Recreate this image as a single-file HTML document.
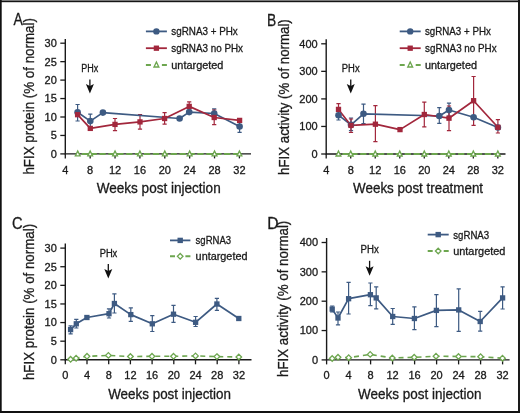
<!DOCTYPE html>
<html><head><meta charset="utf-8"><style>
html,body{margin:0;padding:0;background:#fff;}
body{width:520px;height:413px;overflow:hidden;}
svg{display:block;will-change:transform;}
text{font-family:"Liberation Sans", sans-serif;stroke:#1a1a1a;stroke-width:0.3px;}
</style></head><body>
<svg width="520" height="413" viewBox="0 0 520 413">
<rect x="0" y="0" width="520" height="413" fill="#fff"/>
<text x="13.4" y="25.2" font-size="16" text-anchor="start" fill="#1a1a1a" textLength="9.3" lengthAdjust="spacingAndGlyphs">A</text>
<text transform="translate(34.3,174.6) rotate(-90)" x="0" y="0" font-size="14" fill="#1a1a1a" textLength="156.5" lengthAdjust="spacingAndGlyphs">hFIX protein (% of normal)</text>
<path d="M65.3,39 V153.9 H251" stroke="#1a1a1a" stroke-width="1.4" fill="none"/>
<path d="M60.3,153.9 H65.3" stroke="#1a1a1a" stroke-width="1.3"/>
<text x="56.8" y="157.8" font-size="11" text-anchor="end" fill="#1a1a1a">0</text>
<path d="M60.3,135.45000000000002 H65.3" stroke="#1a1a1a" stroke-width="1.3"/>
<text x="56.8" y="139.35000000000002" font-size="11" text-anchor="end" fill="#1a1a1a">5</text>
<path d="M60.3,117.0 H65.3" stroke="#1a1a1a" stroke-width="1.3"/>
<text x="56.8" y="120.9" font-size="11" text-anchor="end" fill="#1a1a1a">10</text>
<path d="M60.3,98.55000000000001 H65.3" stroke="#1a1a1a" stroke-width="1.3"/>
<text x="56.8" y="102.45000000000002" font-size="11" text-anchor="end" fill="#1a1a1a">15</text>
<path d="M60.3,80.10000000000001 H65.3" stroke="#1a1a1a" stroke-width="1.3"/>
<text x="56.8" y="84.00000000000001" font-size="11" text-anchor="end" fill="#1a1a1a">20</text>
<path d="M60.3,61.650000000000006 H65.3" stroke="#1a1a1a" stroke-width="1.3"/>
<text x="56.8" y="65.55000000000001" font-size="11" text-anchor="end" fill="#1a1a1a">25</text>
<path d="M60.3,43.2 H65.3" stroke="#1a1a1a" stroke-width="1.3"/>
<text x="56.8" y="47.1" font-size="11" text-anchor="end" fill="#1a1a1a">30</text>
<path d="M65.3,153.9 V158.4" stroke="#1a1a1a" stroke-width="1.3"/>
<text x="65.3" y="173.6" font-size="11" text-anchor="middle" fill="#1a1a1a">4</text>
<path d="M90.172,153.9 V158.4" stroke="#1a1a1a" stroke-width="1.3"/>
<text x="90.172" y="173.6" font-size="11" text-anchor="middle" fill="#1a1a1a">8</text>
<path d="M115.044,153.9 V158.4" stroke="#1a1a1a" stroke-width="1.3"/>
<text x="115.044" y="173.6" font-size="11" text-anchor="middle" fill="#1a1a1a">12</text>
<path d="M139.916,153.9 V158.4" stroke="#1a1a1a" stroke-width="1.3"/>
<text x="139.916" y="173.6" font-size="11" text-anchor="middle" fill="#1a1a1a">16</text>
<path d="M164.788,153.9 V158.4" stroke="#1a1a1a" stroke-width="1.3"/>
<text x="164.788" y="173.6" font-size="11" text-anchor="middle" fill="#1a1a1a">20</text>
<path d="M189.66,153.9 V158.4" stroke="#1a1a1a" stroke-width="1.3"/>
<text x="189.66" y="173.6" font-size="11" text-anchor="middle" fill="#1a1a1a">24</text>
<path d="M214.53199999999998,153.9 V158.4" stroke="#1a1a1a" stroke-width="1.3"/>
<text x="214.53199999999998" y="173.6" font-size="11" text-anchor="middle" fill="#1a1a1a">28</text>
<path d="M239.404,153.9 V158.4" stroke="#1a1a1a" stroke-width="1.3"/>
<text x="239.404" y="173.6" font-size="11" text-anchor="middle" fill="#1a1a1a">32</text>
<text x="96.7" y="192.8" font-size="14" text-anchor="start" fill="#1a1a1a" textLength="124" lengthAdjust="spacingAndGlyphs">Weeks post injection</text>
<text x="81.2" y="71.9" font-size="10" text-anchor="start" fill="#1a1a1a" textLength="17" lengthAdjust="spacingAndGlyphs">PHx</text>
<path d="M89.9,79.4 V88.6" stroke="#111" stroke-width="1.3"/>
<path d="M85.9,84.1 L89.9,93.6 L93.9,84.1 L89.9,86.1 Z" fill="#111"/>
<path d="M145.9,31.4 H166.9" stroke="#3d5a82" stroke-width="1.8"/>
<text x="171.3" y="35.3" font-size="10.5" text-anchor="start" fill="#1a1a1a" textLength="66.5" lengthAdjust="spacingAndGlyphs">sgRNA3 + PHx</text>
<path d="M145.9,48.2 H166.9" stroke="#a2273c" stroke-width="1.8"/>
<text x="171.3" y="52.1" font-size="10.5" text-anchor="start" fill="#1a1a1a" textLength="71.7" lengthAdjust="spacingAndGlyphs">sgRNA3 no PHx</text>
<path d="M145.9,65.0 H150.9 M161.9,65.0 H166.9" stroke="#6da64f" stroke-width="2"/>
<text x="171.3" y="68.9" font-size="10.5" text-anchor="start" fill="#1a1a1a" textLength="52.1" lengthAdjust="spacingAndGlyphs">untargeted</text>
<path d="M77.6,104.5 V121 M75.5,104.5 H79.69999999999999 M75.5,121 H79.69999999999999" stroke="#3d5a82" stroke-width="1.2" fill="none"/>
<path d="M90.3,114.2 V128 M88.2,114.2 H92.39999999999999 M88.2,128 H92.39999999999999" stroke="#3d5a82" stroke-width="1.2" fill="none"/>
<path d="M214.2,108.8 V118 M212.1,108.8 H216.29999999999998 M212.1,118 H216.29999999999998" stroke="#3d5a82" stroke-width="1.2" fill="none"/>
<path d="M239.6,121 V132.3 M237.5,121 H241.7 M237.5,132.3 H241.7" stroke="#3d5a82" stroke-width="1.2" fill="none"/>
<path d="M115,118.5 V130.6 M112.9,118.5 H117.1 M112.9,130.6 H117.1" stroke="#a2273c" stroke-width="1.2" fill="none"/>
<path d="M140,114.6 V129.2 M137.9,114.6 H142.1 M137.9,129.2 H142.1" stroke="#a2273c" stroke-width="1.2" fill="none"/>
<path d="M164.6,112.7 V124.2 M162.5,112.7 H166.7 M162.5,124.2 H166.7" stroke="#a2273c" stroke-width="1.2" fill="none"/>
<path d="M189.2,101.9 V112.5 M187.1,101.9 H191.29999999999998 M187.1,112.5 H191.29999999999998" stroke="#a2273c" stroke-width="1.2" fill="none"/>
<path d="M214.2,110 V124.6 M212.1,110 H216.29999999999998 M212.1,124.6 H216.29999999999998" stroke="#a2273c" stroke-width="1.2" fill="none"/>
<polyline points="77.73599999999999,153.9 90.172,153.9 115.044,153.9 139.916,153.9 164.788,153.9 189.66,153.9 214.53199999999998,153.9 239.404,153.9" fill="none" stroke="#6da64f" stroke-width="2.0" stroke-linejoin="round" stroke-dasharray="6.3,2.6" stroke-dashoffset="5"/>
<polyline points="77.6,112.3 90.3,121.1 102.9,112.6 179.6,118.5 189.2,112.1 214.2,113.5 239.6,126.5" fill="none" stroke="#3d5a82" stroke-width="1.7" stroke-linejoin="round"/>
<polyline points="77.6,114.7 90.3,128.4 115,124.4 140,121.9 164.6,118.5 189.2,106.4 214.2,117.5 239.6,120.4" fill="none" stroke="#a2273c" stroke-width="1.7" stroke-linejoin="round"/>
<circle cx="77.6" cy="112.3" r="3.3" fill="#3d5a82"/>
<circle cx="90.3" cy="121.1" r="3.3" fill="#3d5a82"/>
<circle cx="102.9" cy="112.6" r="3.3" fill="#3d5a82"/>
<circle cx="179.6" cy="118.5" r="3.3" fill="#3d5a82"/>
<circle cx="189.2" cy="112.1" r="3.3" fill="#3d5a82"/>
<circle cx="214.2" cy="113.5" r="3.3" fill="#3d5a82"/>
<circle cx="239.6" cy="126.5" r="3.3" fill="#3d5a82"/>
<rect x="74.94999999999999" y="112.05" width="5.3" height="5.3" fill="#a2273c"/>
<rect x="87.64999999999999" y="125.75" width="5.3" height="5.3" fill="#a2273c"/>
<rect x="112.35" y="121.75" width="5.3" height="5.3" fill="#a2273c"/>
<rect x="137.35" y="119.25" width="5.3" height="5.3" fill="#a2273c"/>
<rect x="161.95" y="115.85" width="5.3" height="5.3" fill="#a2273c"/>
<rect x="186.54999999999998" y="103.75" width="5.3" height="5.3" fill="#a2273c"/>
<rect x="211.54999999999998" y="114.85" width="5.3" height="5.3" fill="#a2273c"/>
<rect x="236.95" y="117.75" width="5.3" height="5.3" fill="#a2273c"/>
<path d="M77.73599999999999,150.96 L80.136,155.86 L75.33599999999998,155.86 Z" fill="#fff" stroke="#6da64f" stroke-width="1.35" stroke-linejoin="miter"/>
<path d="M90.172,150.96 L92.572,155.86 L87.77199999999999,155.86 Z" fill="#fff" stroke="#6da64f" stroke-width="1.35" stroke-linejoin="miter"/>
<path d="M115.044,150.96 L117.444,155.86 L112.64399999999999,155.86 Z" fill="#fff" stroke="#6da64f" stroke-width="1.35" stroke-linejoin="miter"/>
<path d="M139.916,150.96 L142.316,155.86 L137.516,155.86 Z" fill="#fff" stroke="#6da64f" stroke-width="1.35" stroke-linejoin="miter"/>
<path d="M164.788,150.96 L167.18800000000002,155.86 L162.388,155.86 Z" fill="#fff" stroke="#6da64f" stroke-width="1.35" stroke-linejoin="miter"/>
<path d="M189.66,150.96 L192.06,155.86 L187.26,155.86 Z" fill="#fff" stroke="#6da64f" stroke-width="1.35" stroke-linejoin="miter"/>
<path d="M214.53199999999998,150.96 L216.932,155.86 L212.13199999999998,155.86 Z" fill="#fff" stroke="#6da64f" stroke-width="1.35" stroke-linejoin="miter"/>
<path d="M239.404,150.96 L241.804,155.86 L237.004,155.86 Z" fill="#fff" stroke="#6da64f" stroke-width="1.35" stroke-linejoin="miter"/>
<circle cx="156.4" cy="31.4" r="3.2" fill="#3d5a82"/>
<rect x="153.75" y="45.550000000000004" width="5.3" height="5.3" fill="#a2273c"/>
<path d="M156.4,62.06 L158.8,66.96 L154.0,66.96 Z" fill="#fff" stroke="#6da64f" stroke-width="1.35" stroke-linejoin="miter"/>
<text x="267.0" y="25.5" font-size="16" text-anchor="start" fill="#1a1a1a" textLength="9.2" lengthAdjust="spacingAndGlyphs">B</text>
<text transform="translate(288.8,174.9) rotate(-90)" x="0" y="0" font-size="14" fill="#1a1a1a" textLength="155.7" lengthAdjust="spacingAndGlyphs">hFIX activity (% of normal)</text>
<path d="M326.2,39.3 V154.0 H505.5" stroke="#1a1a1a" stroke-width="1.4" fill="none"/>
<path d="M321.2,154.0 H326.2" stroke="#1a1a1a" stroke-width="1.3"/>
<text x="317.7" y="157.9" font-size="11" text-anchor="end" fill="#1a1a1a">0</text>
<path d="M321.2,126.45 H326.2" stroke="#1a1a1a" stroke-width="1.3"/>
<text x="317.7" y="130.35" font-size="11" text-anchor="end" fill="#1a1a1a">100</text>
<path d="M321.2,98.9 H326.2" stroke="#1a1a1a" stroke-width="1.3"/>
<text x="317.7" y="102.80000000000001" font-size="11" text-anchor="end" fill="#1a1a1a">200</text>
<path d="M321.2,71.35 H326.2" stroke="#1a1a1a" stroke-width="1.3"/>
<text x="317.7" y="75.25" font-size="11" text-anchor="end" fill="#1a1a1a">300</text>
<path d="M321.2,43.8 H326.2" stroke="#1a1a1a" stroke-width="1.3"/>
<text x="317.7" y="47.699999999999996" font-size="11" text-anchor="end" fill="#1a1a1a">400</text>
<path d="M326.2,154.0 V158.5" stroke="#1a1a1a" stroke-width="1.3"/>
<text x="326.2" y="173.7" font-size="11" text-anchor="middle" fill="#1a1a1a">4</text>
<path d="M350.71999999999997,154.0 V158.5" stroke="#1a1a1a" stroke-width="1.3"/>
<text x="350.71999999999997" y="173.7" font-size="11" text-anchor="middle" fill="#1a1a1a">8</text>
<path d="M375.24,154.0 V158.5" stroke="#1a1a1a" stroke-width="1.3"/>
<text x="375.24" y="173.7" font-size="11" text-anchor="middle" fill="#1a1a1a">12</text>
<path d="M399.76,154.0 V158.5" stroke="#1a1a1a" stroke-width="1.3"/>
<text x="399.76" y="173.7" font-size="11" text-anchor="middle" fill="#1a1a1a">16</text>
<path d="M424.28,154.0 V158.5" stroke="#1a1a1a" stroke-width="1.3"/>
<text x="424.28" y="173.7" font-size="11" text-anchor="middle" fill="#1a1a1a">20</text>
<path d="M448.79999999999995,154.0 V158.5" stroke="#1a1a1a" stroke-width="1.3"/>
<text x="448.79999999999995" y="173.7" font-size="11" text-anchor="middle" fill="#1a1a1a">24</text>
<path d="M473.32,154.0 V158.5" stroke="#1a1a1a" stroke-width="1.3"/>
<text x="473.32" y="173.7" font-size="11" text-anchor="middle" fill="#1a1a1a">28</text>
<path d="M497.84,154.0 V158.5" stroke="#1a1a1a" stroke-width="1.3"/>
<text x="497.84" y="173.7" font-size="11" text-anchor="middle" fill="#1a1a1a">32</text>
<text x="353.1" y="192.8" font-size="14" text-anchor="start" fill="#1a1a1a" textLength="130" lengthAdjust="spacingAndGlyphs">Weeks post treatment</text>
<text x="341.8" y="71.9" font-size="10" text-anchor="start" fill="#1a1a1a" textLength="17.8" lengthAdjust="spacingAndGlyphs">PHx</text>
<path d="M350.75,79.4 V88.6" stroke="#111" stroke-width="1.3"/>
<path d="M346.75,84.1 L350.75,93.6 L354.75,84.1 L350.75,86.1 Z" fill="#111"/>
<path d="M399.7,31.4 H420.7" stroke="#3d5a82" stroke-width="1.8"/>
<text x="425" y="35.3" font-size="10.5" text-anchor="start" fill="#1a1a1a" textLength="65.8" lengthAdjust="spacingAndGlyphs">sgRNA3 + PHx</text>
<path d="M399.7,48.2 H420.7" stroke="#a2273c" stroke-width="1.8"/>
<text x="425" y="52.1" font-size="10.5" text-anchor="start" fill="#1a1a1a" textLength="71.6" lengthAdjust="spacingAndGlyphs">sgRNA3 no PHx</text>
<path d="M399.7,65.0 H404.7 M415.7,65.0 H420.7" stroke="#6da64f" stroke-width="2"/>
<text x="425" y="68.9" font-size="10.5" text-anchor="start" fill="#1a1a1a" textLength="52" lengthAdjust="spacingAndGlyphs">untargeted</text>
<path d="M338.5,110 V120 M336.4,110 H340.6 M336.4,120 H340.6" stroke="#3d5a82" stroke-width="1.2" fill="none"/>
<path d="M351,118 V130.6 M348.9,118 H353.1 M348.9,130.6 H353.1" stroke="#3d5a82" stroke-width="1.2" fill="none"/>
<path d="M363.5,104.2 V123.5 M361.4,104.2 H365.6 M361.4,123.5 H365.6" stroke="#3d5a82" stroke-width="1.2" fill="none"/>
<path d="M439.3,107.7 V123.4 M437.2,107.7 H441.40000000000003 M437.2,123.4 H441.40000000000003" stroke="#3d5a82" stroke-width="1.2" fill="none"/>
<path d="M449,103.2 V116 M446.9,103.2 H451.1 M446.9,116 H451.1" stroke="#3d5a82" stroke-width="1.2" fill="none"/>
<path d="M338.5,103.7 V115 M336.4,103.7 H340.6 M336.4,115 H340.6" stroke="#a2273c" stroke-width="1.2" fill="none"/>
<path d="M351,119 V132.5 M348.9,119 H353.1 M348.9,132.5 H353.1" stroke="#a2273c" stroke-width="1.2" fill="none"/>
<path d="M375.4,105.6 V141.7 M373.29999999999995,105.6 H377.5 M373.29999999999995,141.7 H377.5" stroke="#a2273c" stroke-width="1.2" fill="none"/>
<path d="M424.3,102.2 V126.9 M422.2,102.2 H426.40000000000003 M422.2,126.9 H426.40000000000003" stroke="#a2273c" stroke-width="1.2" fill="none"/>
<path d="M449,106 V130.6 M446.9,106 H451.1 M446.9,130.6 H451.1" stroke="#a2273c" stroke-width="1.2" fill="none"/>
<path d="M473.6,76.5 V125.4 M471.5,76.5 H475.70000000000005 M471.5,125.4 H475.70000000000005" stroke="#a2273c" stroke-width="1.2" fill="none"/>
<path d="M497.9,119.7 V133 M495.79999999999995,119.7 H500.0 M495.79999999999995,133 H500.0" stroke="#a2273c" stroke-width="1.2" fill="none"/>
<polyline points="338.46,154.0 350.71999999999997,154.0 375.24,154.0 399.76,154.0 424.28,154.0 448.79999999999995,154.0 473.32,154.0 497.84,154.0" fill="none" stroke="#6da64f" stroke-width="2.0" stroke-linejoin="round" stroke-dasharray="6.3,2.6" stroke-dashoffset="5"/>
<polyline points="338.5,115.2 351,124.8 363.5,113.8 439.3,116 449,110 473.6,117.2 497.9,127.5" fill="none" stroke="#3d5a82" stroke-width="1.7" stroke-linejoin="round"/>
<polyline points="338.5,109.4 351,125.4 375.4,124.2 400,129.6 424.3,114.5 449,118.2 473.6,100.7 497.9,127.3" fill="none" stroke="#a2273c" stroke-width="1.7" stroke-linejoin="round"/>
<circle cx="338.5" cy="115.2" r="3.3" fill="#3d5a82"/>
<circle cx="351" cy="124.8" r="3.3" fill="#3d5a82"/>
<circle cx="363.5" cy="113.8" r="3.3" fill="#3d5a82"/>
<circle cx="439.3" cy="116" r="3.3" fill="#3d5a82"/>
<circle cx="449" cy="110" r="3.3" fill="#3d5a82"/>
<circle cx="473.6" cy="117.2" r="3.3" fill="#3d5a82"/>
<circle cx="497.9" cy="127.5" r="3.3" fill="#3d5a82"/>
<rect x="335.85" y="106.75" width="5.3" height="5.3" fill="#a2273c"/>
<rect x="348.35" y="122.75" width="5.3" height="5.3" fill="#a2273c"/>
<rect x="372.75" y="121.55" width="5.3" height="5.3" fill="#a2273c"/>
<rect x="397.35" y="126.94999999999999" width="5.3" height="5.3" fill="#a2273c"/>
<rect x="421.65000000000003" y="111.85" width="5.3" height="5.3" fill="#a2273c"/>
<rect x="446.35" y="115.55" width="5.3" height="5.3" fill="#a2273c"/>
<rect x="470.95000000000005" y="98.05" width="5.3" height="5.3" fill="#a2273c"/>
<rect x="495.25" y="124.64999999999999" width="5.3" height="5.3" fill="#a2273c"/>
<path d="M338.46,151.06 L340.85999999999996,155.96 L336.06,155.96 Z" fill="#fff" stroke="#6da64f" stroke-width="1.35" stroke-linejoin="miter"/>
<path d="M350.71999999999997,151.06 L353.11999999999995,155.96 L348.32,155.96 Z" fill="#fff" stroke="#6da64f" stroke-width="1.35" stroke-linejoin="miter"/>
<path d="M375.24,151.06 L377.64,155.96 L372.84000000000003,155.96 Z" fill="#fff" stroke="#6da64f" stroke-width="1.35" stroke-linejoin="miter"/>
<path d="M399.76,151.06 L402.15999999999997,155.96 L397.36,155.96 Z" fill="#fff" stroke="#6da64f" stroke-width="1.35" stroke-linejoin="miter"/>
<path d="M424.28,151.06 L426.67999999999995,155.96 L421.88,155.96 Z" fill="#fff" stroke="#6da64f" stroke-width="1.35" stroke-linejoin="miter"/>
<path d="M448.79999999999995,151.06 L451.19999999999993,155.96 L446.4,155.96 Z" fill="#fff" stroke="#6da64f" stroke-width="1.35" stroke-linejoin="miter"/>
<path d="M473.32,151.06 L475.71999999999997,155.96 L470.92,155.96 Z" fill="#fff" stroke="#6da64f" stroke-width="1.35" stroke-linejoin="miter"/>
<path d="M497.84,151.06 L500.23999999999995,155.96 L495.44,155.96 Z" fill="#fff" stroke="#6da64f" stroke-width="1.35" stroke-linejoin="miter"/>
<circle cx="410.2" cy="31.4" r="3.2" fill="#3d5a82"/>
<rect x="407.55" y="45.550000000000004" width="5.3" height="5.3" fill="#a2273c"/>
<path d="M410.2,62.06 L412.59999999999997,66.96 L407.8,66.96 Z" fill="#fff" stroke="#6da64f" stroke-width="1.35" stroke-linejoin="miter"/>
<text x="12.0" y="229.2" font-size="16" text-anchor="start" fill="#1a1a1a" textLength="10.6" lengthAdjust="spacingAndGlyphs">C</text>
<text transform="translate(34.0,380.1) rotate(-90)" x="0" y="0" font-size="14" fill="#1a1a1a" textLength="156.2" lengthAdjust="spacingAndGlyphs">hFIX protein (% of normal)</text>
<path d="M65.3,243.5 V359.8 H251.5" stroke="#1a1a1a" stroke-width="1.4" fill="none"/>
<path d="M60.3,359.8 H65.3" stroke="#1a1a1a" stroke-width="1.3"/>
<text x="56.8" y="363.7" font-size="11" text-anchor="end" fill="#1a1a1a">0</text>
<path d="M60.3,341.185 H65.3" stroke="#1a1a1a" stroke-width="1.3"/>
<text x="56.8" y="345.085" font-size="11" text-anchor="end" fill="#1a1a1a">5</text>
<path d="M60.3,322.57 H65.3" stroke="#1a1a1a" stroke-width="1.3"/>
<text x="56.8" y="326.46999999999997" font-size="11" text-anchor="end" fill="#1a1a1a">10</text>
<path d="M60.3,303.95500000000004 H65.3" stroke="#1a1a1a" stroke-width="1.3"/>
<text x="56.8" y="307.855" font-size="11" text-anchor="end" fill="#1a1a1a">15</text>
<path d="M60.3,285.34000000000003 H65.3" stroke="#1a1a1a" stroke-width="1.3"/>
<text x="56.8" y="289.24" font-size="11" text-anchor="end" fill="#1a1a1a">20</text>
<path d="M60.3,266.725 H65.3" stroke="#1a1a1a" stroke-width="1.3"/>
<text x="56.8" y="270.625" font-size="11" text-anchor="end" fill="#1a1a1a">25</text>
<path d="M60.3,248.11 H65.3" stroke="#1a1a1a" stroke-width="1.3"/>
<text x="56.8" y="252.01000000000002" font-size="11" text-anchor="end" fill="#1a1a1a">30</text>
<path d="M65.3,359.8 V364.3" stroke="#1a1a1a" stroke-width="1.3"/>
<text x="65.3" y="378.6" font-size="11" text-anchor="middle" fill="#1a1a1a">0</text>
<path d="M87.0,359.8 V364.3" stroke="#1a1a1a" stroke-width="1.3"/>
<text x="87.0" y="378.6" font-size="11" text-anchor="middle" fill="#1a1a1a">4</text>
<path d="M108.69999999999999,359.8 V364.3" stroke="#1a1a1a" stroke-width="1.3"/>
<text x="108.69999999999999" y="378.6" font-size="11" text-anchor="middle" fill="#1a1a1a">8</text>
<path d="M130.39999999999998,359.8 V364.3" stroke="#1a1a1a" stroke-width="1.3"/>
<text x="130.39999999999998" y="378.6" font-size="11" text-anchor="middle" fill="#1a1a1a">12</text>
<path d="M152.1,359.8 V364.3" stroke="#1a1a1a" stroke-width="1.3"/>
<text x="152.1" y="378.6" font-size="11" text-anchor="middle" fill="#1a1a1a">16</text>
<path d="M173.8,359.8 V364.3" stroke="#1a1a1a" stroke-width="1.3"/>
<text x="173.8" y="378.6" font-size="11" text-anchor="middle" fill="#1a1a1a">20</text>
<path d="M195.5,359.8 V364.3" stroke="#1a1a1a" stroke-width="1.3"/>
<text x="195.5" y="378.6" font-size="11" text-anchor="middle" fill="#1a1a1a">24</text>
<path d="M217.2,359.8 V364.3" stroke="#1a1a1a" stroke-width="1.3"/>
<text x="217.2" y="378.6" font-size="11" text-anchor="middle" fill="#1a1a1a">28</text>
<path d="M238.89999999999998,359.8 V364.3" stroke="#1a1a1a" stroke-width="1.3"/>
<text x="238.89999999999998" y="378.6" font-size="11" text-anchor="middle" fill="#1a1a1a">32</text>
<text x="108.2" y="398.6" font-size="14" text-anchor="start" fill="#1a1a1a" textLength="122.8" lengthAdjust="spacingAndGlyphs">Weeks post injection</text>
<text x="99.7" y="257.0" font-size="10" text-anchor="start" fill="#1a1a1a" textLength="17.6" lengthAdjust="spacingAndGlyphs">PHx</text>
<path d="M108.3,264.0 V273.5" stroke="#111" stroke-width="1.3"/>
<path d="M104.3,269.0 L108.3,278.5 L112.3,269.0 L108.3,271.0 Z" fill="#111"/>
<path d="M170,240.4 H190.4" stroke="#3d5a82" stroke-width="1.8"/>
<text x="195.6" y="244.3" font-size="10.5" text-anchor="start" fill="#1a1a1a" textLength="35.6" lengthAdjust="spacingAndGlyphs">sgRNA3</text>
<path d="M170,256.3 H175 M185.4,256.3 H190.4" stroke="#6da64f" stroke-width="2"/>
<text x="195.6" y="260.2" font-size="10.5" text-anchor="start" fill="#1a1a1a" textLength="51.9" lengthAdjust="spacingAndGlyphs">untargeted</text>
<path d="M70.6,325.8 V333.8 M68.5,325.8 H72.69999999999999 M68.5,333.8 H72.69999999999999" stroke="#3d5a82" stroke-width="1.2" fill="none"/>
<path d="M76.3,319.4 V328 M74.2,319.4 H78.39999999999999 M74.2,328 H78.39999999999999" stroke="#3d5a82" stroke-width="1.2" fill="none"/>
<path d="M86.9,316 V319 M84.80000000000001,316 H89.0 M84.80000000000001,319 H89.0" stroke="#3d5a82" stroke-width="1.2" fill="none"/>
<path d="M109,308.8 V318 M106.9,308.8 H111.1 M106.9,318 H111.1" stroke="#3d5a82" stroke-width="1.2" fill="none"/>
<path d="M114.4,293.8 V313 M112.30000000000001,293.8 H116.5 M112.30000000000001,313 H116.5" stroke="#3d5a82" stroke-width="1.2" fill="none"/>
<path d="M130.8,307.9 V321.3 M128.70000000000002,307.9 H132.9 M128.70000000000002,321.3 H132.9" stroke="#3d5a82" stroke-width="1.2" fill="none"/>
<path d="M152.3,315.6 V331.5 M150.20000000000002,315.6 H154.4 M150.20000000000002,331.5 H154.4" stroke="#3d5a82" stroke-width="1.2" fill="none"/>
<path d="M173.5,305.4 V322.3 M171.4,305.4 H175.6 M171.4,322.3 H175.6" stroke="#3d5a82" stroke-width="1.2" fill="none"/>
<path d="M195.6,316.5 V326.5 M193.5,316.5 H197.7 M193.5,326.5 H197.7" stroke="#3d5a82" stroke-width="1.2" fill="none"/>
<path d="M216.9,298.3 V310.4 M214.8,298.3 H219.0 M214.8,310.4 H219.0" stroke="#3d5a82" stroke-width="1.2" fill="none"/>
<path d="M238.8,317 V320 M236.70000000000002,317 H240.9 M236.70000000000002,320 H240.9" stroke="#3d5a82" stroke-width="1.2" fill="none"/>
<polyline points="70.6,359.3 76.1,358.2 87,356.3 108.4,355.4 130.4,356.5 152,356.3 173.5,356.3 195.5,355.9 216.9,356.6 238.8,357" fill="none" stroke="#6da64f" stroke-width="1.6" stroke-linejoin="round" stroke-dasharray="5,4" stroke-dashoffset="5"/>
<polyline points="70.6,329.6 76.3,323.8 86.9,317.5 109,313.7 114.4,303.5 130.8,314.6 152.3,323.8 173.5,314.2 195.6,322.3 216.9,304 238.8,318.5" fill="none" stroke="#3d5a82" stroke-width="1.7" stroke-linejoin="round"/>
<path d="M70.6,356.5 L73.39999999999999,359.3 L70.6,362.1 L67.8,359.3 Z" fill="#fff" stroke="#6da64f" stroke-width="1.3"/>
<path d="M76.1,355.4 L78.89999999999999,358.2 L76.1,361.0 L73.3,358.2 Z" fill="#fff" stroke="#6da64f" stroke-width="1.3"/>
<path d="M87,353.5 L89.8,356.3 L87,359.1 L84.2,356.3 Z" fill="#fff" stroke="#6da64f" stroke-width="1.3"/>
<path d="M108.4,352.59999999999997 L111.2,355.4 L108.4,358.2 L105.60000000000001,355.4 Z" fill="#fff" stroke="#6da64f" stroke-width="1.3"/>
<path d="M130.4,353.7 L133.20000000000002,356.5 L130.4,359.3 L127.60000000000001,356.5 Z" fill="#fff" stroke="#6da64f" stroke-width="1.3"/>
<path d="M152,353.5 L154.8,356.3 L152,359.1 L149.2,356.3 Z" fill="#fff" stroke="#6da64f" stroke-width="1.3"/>
<path d="M173.5,353.5 L176.3,356.3 L173.5,359.1 L170.7,356.3 Z" fill="#fff" stroke="#6da64f" stroke-width="1.3"/>
<path d="M195.5,353.09999999999997 L198.3,355.9 L195.5,358.7 L192.7,355.9 Z" fill="#fff" stroke="#6da64f" stroke-width="1.3"/>
<path d="M216.9,353.8 L219.70000000000002,356.6 L216.9,359.40000000000003 L214.1,356.6 Z" fill="#fff" stroke="#6da64f" stroke-width="1.3"/>
<path d="M238.8,354.2 L241.60000000000002,357 L238.8,359.8 L236.0,357 Z" fill="#fff" stroke="#6da64f" stroke-width="1.3"/>
<rect x="67.94999999999999" y="326.95000000000005" width="5.3" height="5.3" fill="#3d5a82"/>
<rect x="73.64999999999999" y="321.15000000000003" width="5.3" height="5.3" fill="#3d5a82"/>
<rect x="84.25" y="314.85" width="5.3" height="5.3" fill="#3d5a82"/>
<rect x="106.35" y="311.05" width="5.3" height="5.3" fill="#3d5a82"/>
<rect x="111.75" y="300.85" width="5.3" height="5.3" fill="#3d5a82"/>
<rect x="128.15" y="311.95000000000005" width="5.3" height="5.3" fill="#3d5a82"/>
<rect x="149.65" y="321.15000000000003" width="5.3" height="5.3" fill="#3d5a82"/>
<rect x="170.85" y="311.55" width="5.3" height="5.3" fill="#3d5a82"/>
<rect x="192.95" y="319.65000000000003" width="5.3" height="5.3" fill="#3d5a82"/>
<rect x="214.25" y="301.35" width="5.3" height="5.3" fill="#3d5a82"/>
<rect x="236.15" y="315.85" width="5.3" height="5.3" fill="#3d5a82"/>
<rect x="177.5" y="237.70000000000002" width="5.4" height="5.4" fill="#3d5a82"/>
<path d="M180.2,253.5 L183.0,256.3 L180.2,259.1 L177.39999999999998,256.3 Z" fill="#fff" stroke="#6da64f" stroke-width="1.3"/>
<text x="267.2" y="229.1" font-size="16" text-anchor="start" fill="#1a1a1a" textLength="11.3" lengthAdjust="spacingAndGlyphs">D</text>
<text transform="translate(288.2,377.0) rotate(-90)" x="0" y="0" font-size="14" fill="#1a1a1a" textLength="156.3" lengthAdjust="spacingAndGlyphs">hFIX activity (% of normal)</text>
<path d="M326.6,238.1 V359.9 H509.6" stroke="#1a1a1a" stroke-width="1.4" fill="none"/>
<path d="M321.6,359.9 H326.6" stroke="#1a1a1a" stroke-width="1.3"/>
<text x="318.1" y="363.79999999999995" font-size="11" text-anchor="end" fill="#1a1a1a">0</text>
<path d="M321.6,330.54999999999995 H326.6" stroke="#1a1a1a" stroke-width="1.3"/>
<text x="318.1" y="334.44999999999993" font-size="11" text-anchor="end" fill="#1a1a1a">100</text>
<path d="M321.6,301.2 H326.6" stroke="#1a1a1a" stroke-width="1.3"/>
<text x="318.1" y="305.09999999999997" font-size="11" text-anchor="end" fill="#1a1a1a">200</text>
<path d="M321.6,271.84999999999997 H326.6" stroke="#1a1a1a" stroke-width="1.3"/>
<text x="318.1" y="275.74999999999994" font-size="11" text-anchor="end" fill="#1a1a1a">300</text>
<path d="M321.6,242.5 H326.6" stroke="#1a1a1a" stroke-width="1.3"/>
<text x="318.1" y="246.4" font-size="11" text-anchor="end" fill="#1a1a1a">400</text>
<path d="M326.6,359.9 V364.4" stroke="#1a1a1a" stroke-width="1.3"/>
<text x="326.6" y="378.7" font-size="11" text-anchor="middle" fill="#1a1a1a">0</text>
<path d="M348.6,359.9 V364.4" stroke="#1a1a1a" stroke-width="1.3"/>
<text x="348.6" y="378.7" font-size="11" text-anchor="middle" fill="#1a1a1a">4</text>
<path d="M370.6,359.9 V364.4" stroke="#1a1a1a" stroke-width="1.3"/>
<text x="370.6" y="378.7" font-size="11" text-anchor="middle" fill="#1a1a1a">8</text>
<path d="M392.6,359.9 V364.4" stroke="#1a1a1a" stroke-width="1.3"/>
<text x="392.6" y="378.7" font-size="11" text-anchor="middle" fill="#1a1a1a">12</text>
<path d="M414.6,359.9 V364.4" stroke="#1a1a1a" stroke-width="1.3"/>
<text x="414.6" y="378.7" font-size="11" text-anchor="middle" fill="#1a1a1a">16</text>
<path d="M436.6,359.9 V364.4" stroke="#1a1a1a" stroke-width="1.3"/>
<text x="436.6" y="378.7" font-size="11" text-anchor="middle" fill="#1a1a1a">20</text>
<path d="M458.6,359.9 V364.4" stroke="#1a1a1a" stroke-width="1.3"/>
<text x="458.6" y="378.7" font-size="11" text-anchor="middle" fill="#1a1a1a">24</text>
<path d="M480.6,359.9 V364.4" stroke="#1a1a1a" stroke-width="1.3"/>
<text x="480.6" y="378.7" font-size="11" text-anchor="middle" fill="#1a1a1a">28</text>
<path d="M502.6,359.9 V364.4" stroke="#1a1a1a" stroke-width="1.3"/>
<text x="502.6" y="378.7" font-size="11" text-anchor="middle" fill="#1a1a1a">32</text>
<text x="358.1" y="398.9" font-size="14" text-anchor="start" fill="#1a1a1a" textLength="123.3" lengthAdjust="spacingAndGlyphs">Weeks post injection</text>
<text x="360.6" y="253.1" font-size="10" text-anchor="start" fill="#1a1a1a" textLength="18.2" lengthAdjust="spacingAndGlyphs">PHx</text>
<path d="M369.6,260.8 V270.8" stroke="#111" stroke-width="1.3"/>
<path d="M365.6,266.3 L369.6,275.8 L373.6,266.3 L369.6,268.3 Z" fill="#111"/>
<path d="M427.7,234.6 H448.7" stroke="#3d5a82" stroke-width="1.8"/>
<text x="453.2" y="238.5" font-size="10.5" text-anchor="start" fill="#1a1a1a" textLength="36" lengthAdjust="spacingAndGlyphs">sgRNA3</text>
<path d="M427.7,251.0 H432.7 M443.7,251.0 H448.7" stroke="#6da64f" stroke-width="2"/>
<text x="453.2" y="254.9" font-size="10.5" text-anchor="start" fill="#1a1a1a" textLength="52.2" lengthAdjust="spacingAndGlyphs">untargeted</text>
<path d="M332.2,306 V312 M330.09999999999997,306 H334.3 M330.09999999999997,312 H334.3" stroke="#3d5a82" stroke-width="1.2" fill="none"/>
<path d="M338,312 V324.8 M335.9,312 H340.1 M335.9,324.8 H340.1" stroke="#3d5a82" stroke-width="1.2" fill="none"/>
<path d="M348.6,282.3 V314 M346.5,282.3 H350.70000000000005 M346.5,314 H350.70000000000005" stroke="#3d5a82" stroke-width="1.2" fill="none"/>
<path d="M370.4,283 V305.6 M368.29999999999995,283 H372.5 M368.29999999999995,305.6 H372.5" stroke="#3d5a82" stroke-width="1.2" fill="none"/>
<path d="M376.2,286.9 V308.8 M374.09999999999997,286.9 H378.3 M374.09999999999997,308.8 H378.3" stroke="#3d5a82" stroke-width="1.2" fill="none"/>
<path d="M392.7,308.5 V324.4 M390.59999999999997,308.5 H394.8 M390.59999999999997,324.4 H394.8" stroke="#3d5a82" stroke-width="1.2" fill="none"/>
<path d="M414.4,306.9 V329.6 M412.29999999999995,306.9 H416.5 M412.29999999999995,329.6 H416.5" stroke="#3d5a82" stroke-width="1.2" fill="none"/>
<path d="M436.4,294.6 V326.7 M434.29999999999995,294.6 H438.5 M434.29999999999995,326.7 H438.5" stroke="#3d5a82" stroke-width="1.2" fill="none"/>
<path d="M458.7,288.8 V331.4 M456.59999999999997,288.8 H460.8 M456.59999999999997,331.4 H460.8" stroke="#3d5a82" stroke-width="1.2" fill="none"/>
<path d="M480.2,311.3 V331.2 M478.09999999999997,311.3 H482.3 M478.09999999999997,331.2 H482.3" stroke="#3d5a82" stroke-width="1.2" fill="none"/>
<path d="M502.6,286.9 V309 M500.5,286.9 H504.70000000000005 M500.5,309 H504.70000000000005" stroke="#3d5a82" stroke-width="1.2" fill="none"/>
<polyline points="332.2,358.5 338,357.3 348.7,357.7 370.2,354.4 392.3,358 414.2,357.3 436,356.2 458.5,356.5 480.6,356.7 502.5,358.2" fill="none" stroke="#6da64f" stroke-width="1.6" stroke-linejoin="round" stroke-dasharray="5,4" stroke-dashoffset="5"/>
<polyline points="332.2,309.1 338,318 348.6,298.7 370.4,294.7 376.2,297.9 392.7,316.5 414.4,318.5 436.4,310.4 458.7,309.9 480.2,321.5 502.6,297.9" fill="none" stroke="#3d5a82" stroke-width="1.7" stroke-linejoin="round"/>
<path d="M332.2,355.7 L335.0,358.5 L332.2,361.3 L329.4,358.5 Z" fill="#fff" stroke="#6da64f" stroke-width="1.3"/>
<path d="M338,354.5 L340.8,357.3 L338,360.1 L335.2,357.3 Z" fill="#fff" stroke="#6da64f" stroke-width="1.3"/>
<path d="M348.7,354.9 L351.5,357.7 L348.7,360.5 L345.9,357.7 Z" fill="#fff" stroke="#6da64f" stroke-width="1.3"/>
<path d="M370.2,351.59999999999997 L373.0,354.4 L370.2,357.2 L367.4,354.4 Z" fill="#fff" stroke="#6da64f" stroke-width="1.3"/>
<path d="M392.3,355.2 L395.1,358 L392.3,360.8 L389.5,358 Z" fill="#fff" stroke="#6da64f" stroke-width="1.3"/>
<path d="M414.2,354.5 L417.0,357.3 L414.2,360.1 L411.4,357.3 Z" fill="#fff" stroke="#6da64f" stroke-width="1.3"/>
<path d="M436,353.4 L438.8,356.2 L436,359.0 L433.2,356.2 Z" fill="#fff" stroke="#6da64f" stroke-width="1.3"/>
<path d="M458.5,353.7 L461.3,356.5 L458.5,359.3 L455.7,356.5 Z" fill="#fff" stroke="#6da64f" stroke-width="1.3"/>
<path d="M480.6,353.9 L483.40000000000003,356.7 L480.6,359.5 L477.8,356.7 Z" fill="#fff" stroke="#6da64f" stroke-width="1.3"/>
<path d="M502.5,355.4 L505.3,358.2 L502.5,361.0 L499.7,358.2 Z" fill="#fff" stroke="#6da64f" stroke-width="1.3"/>
<rect x="329.55" y="306.45000000000005" width="5.3" height="5.3" fill="#3d5a82"/>
<rect x="335.35" y="315.35" width="5.3" height="5.3" fill="#3d5a82"/>
<rect x="345.95000000000005" y="296.05" width="5.3" height="5.3" fill="#3d5a82"/>
<rect x="367.75" y="292.05" width="5.3" height="5.3" fill="#3d5a82"/>
<rect x="373.55" y="295.25" width="5.3" height="5.3" fill="#3d5a82"/>
<rect x="390.05" y="313.85" width="5.3" height="5.3" fill="#3d5a82"/>
<rect x="411.75" y="315.85" width="5.3" height="5.3" fill="#3d5a82"/>
<rect x="433.75" y="307.75" width="5.3" height="5.3" fill="#3d5a82"/>
<rect x="456.05" y="307.25" width="5.3" height="5.3" fill="#3d5a82"/>
<rect x="477.55" y="318.85" width="5.3" height="5.3" fill="#3d5a82"/>
<rect x="499.95000000000005" y="295.25" width="5.3" height="5.3" fill="#3d5a82"/>
<rect x="435.5" y="231.9" width="5.4" height="5.4" fill="#3d5a82"/>
<path d="M438.2,248.2 L441.0,251.0 L438.2,253.8 L435.4,251.0 Z" fill="#fff" stroke="#6da64f" stroke-width="1.3"/>
<rect x="0" y="0" width="520" height="1" fill="#7a7a7a"/><rect x="0" y="1" width="520" height="1.2" fill="#151515"/>
<rect x="0" y="0" width="1.7" height="413" fill="#111"/>
<rect x="518" y="0" width="2" height="413" fill="#1a1a1a"/>
<rect x="0" y="411" width="520" height="2" fill="#111"/>
</svg>
</body></html>
